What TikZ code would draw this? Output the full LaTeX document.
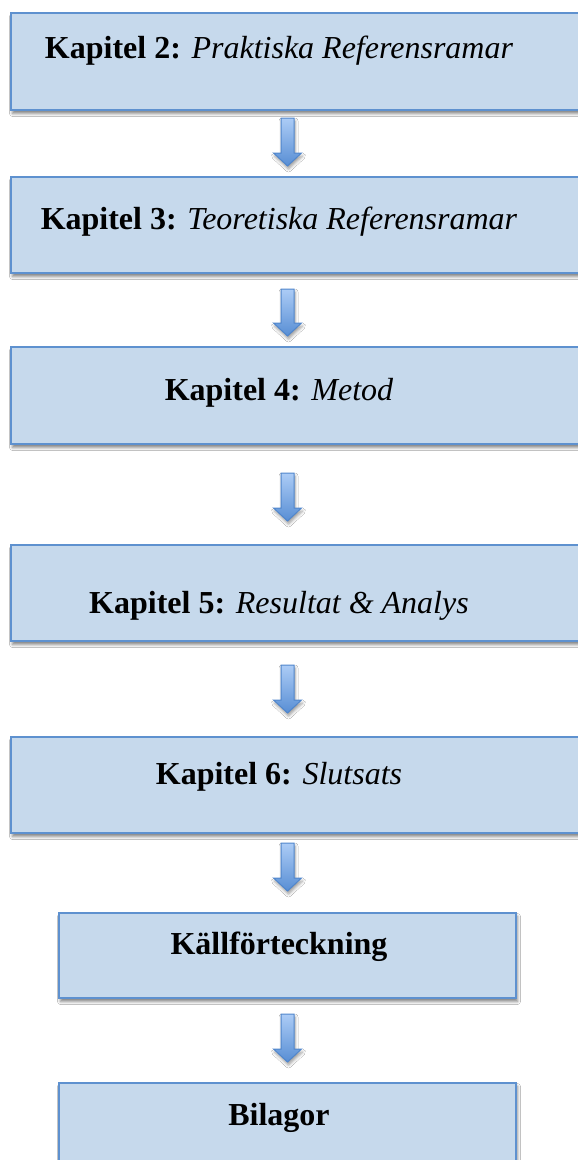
\documentclass[tikz,border=0pt]{standalone}
\usepackage{fontspec}
\setmainfont{Liberation Serif}
\usetikzlibrary{shadows.blur,calc}
\definecolor{boxfill}{RGB}{198,217,236}
\definecolor{boxline}{RGB}{94,145,207}
\definecolor{arrtop}{RGB}{172,204,246}
\definecolor{arrbot}{RGB}{88,142,212}
\definecolor{arrline}{RGB}{80,134,204}
\tikzset{
  chapbox/.style={rectangle, draw=boxline, line width=2pt, fill=boxfill,
    anchor=north west, inner sep=0pt,
    blur shadow={shadow xshift=1.5pt, shadow yshift=-3.5pt, shadow blur radius=3pt, shadow opacity=50}},
  chaptext/.style={anchor=base, inner sep=0pt, font=\fontsize{32}{38}\selectfont},
  blockarrow/.style={draw=arrline, line width=1pt, line join=miter,
    top color=arrtop, bottom color=arrbot,
    blur shadow={shadow xshift=1pt, shadow yshift=-3pt, shadow blur radius=3pt, shadow opacity=40}}
}
\newcommand{\flowarrow}[2]{%
  \path[blockarrow] let \p1=(#1), \p2=(#2) in
    (\x1-6.5pt,\y1) -- (\x1+6.5pt,\y1) -- (\x1+6.5pt,\y2+13pt) -- (\x1+14pt,\y2+13pt)
    -- (\x1,\y2) -- (\x1-14pt,\y2+13pt) -- (\x1-6.5pt,\y2+13pt) -- cycle;}
\begin{document}
\begin{tikzpicture}[x=1pt,y=-1pt]
\useasboundingbox (0,0) rectangle (578,1160);
\fill[white] (0,0) rectangle (578,1160);
\clip (0,0) rectangle (578,1160);
% boxes
\node[chapbox, minimum width=620, minimum height=97] (b1) at (10,12) {};
\node[chapbox, minimum width=620, minimum height=96] (b2) at (10,176) {};
\node[chapbox, minimum width=620, minimum height=97] (b3) at (10,346) {};
\node[chapbox, minimum width=620, minimum height=96] (b4) at (10,544) {};
\node[chapbox, minimum width=620, minimum height=96] (b5) at (10,736) {};
\node[chapbox, minimum width=457, minimum height=85] (b6) at (58,912) {};
\node[chapbox, minimum width=457, minimum height=100] (b7) at (58,1082) {};
% texts
\node[chaptext] (t1) at (279,58) {\textbf{Kapitel 2:} \textit{Praktiska Referensramar}};
\node[chaptext] (t2) at (279,229) {\textbf{Kapitel 3:} \textit{Teoretiska Referensramar}};
\node[chaptext] (t3) at (279,400) {\textbf{Kapitel 4:} \textit{Metod}};
\node[chaptext] (t4) at (279,613) {\textbf{Kapitel 5:} \textit{Resultat \& Analys}};
\node[chaptext] (t5) at (279,784) {\textbf{Kapitel 6:} \textit{Slutsats}};
\node[chaptext] (t6) at (279,954) {\textbf{Källförteckning}};
\node[chaptext] (t7) at (279,1125) {\textbf{Bilagor}};
% arrow axis and end points
\coordinate (axis) at (287.5,0);
\coordinate (a1s) at ($(b1.south -| axis)+(0,7)$);
\coordinate (a1e) at ($(b2.north -| axis)+(0,-10)$);
\coordinate (a2s) at ($(b2.south -| axis)+(0,15)$);
\coordinate (a2e) at ($(b3.north -| axis)+(0,-10)$);
\coordinate (a3s) at ($(b3.south -| axis)+(0,28)$);
\coordinate (a3e) at ($(b4.north -| axis)+(0,-23)$);
\coordinate (a4s) at ($(b4.south -| axis)+(0,23)$);
\coordinate (a4e) at ($(b5.north -| axis)+(0,-23)$);
\coordinate (a5s) at ($(b5.south -| axis)+(0,9)$);
\coordinate (a5e) at ($(b6.north -| axis)+(0,-21)$);
\coordinate (a6s) at ($(b6.south -| axis)+(0,15)$);
\coordinate (a6e) at ($(b7.north -| axis)+(0,-20)$);
\flowarrow{a1s}{a1e}
\flowarrow{a2s}{a2e}
\flowarrow{a3s}{a3e}
\flowarrow{a4s}{a4e}
\flowarrow{a5s}{a5e}
\flowarrow{a6s}{a6e}
\end{tikzpicture}
\end{document}
